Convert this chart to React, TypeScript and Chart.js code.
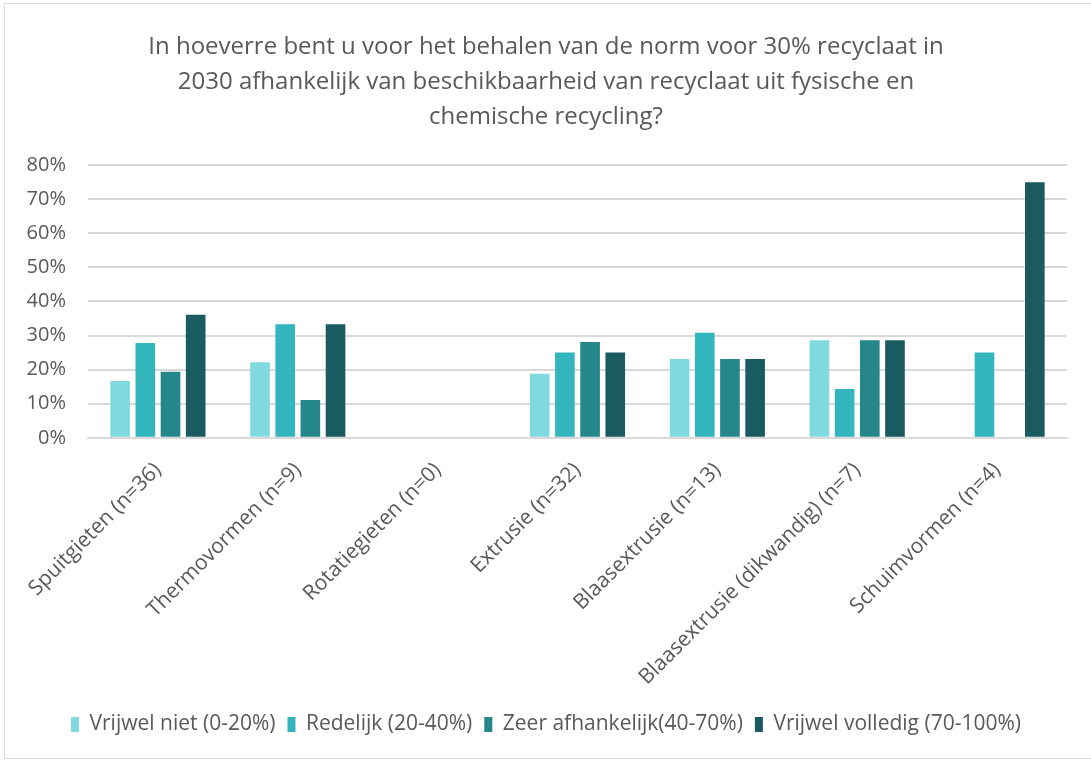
import React, { useEffect, useRef } from "react";
import { Chart, registerables } from "chart.js";

Chart.register(...registerables);

const titleLines = [
  "In hoeverre bent u voor het behalen van de norm voor 30% recyclaat in",
  "2030 afhankelijk van beschikbaarheid van recyclaat uit fysische en",
  "chemische recycling?",
];

const categories = [
  "Spuitgieten (n=36)",
  "Thermovormen (n=9)",
  "Rotatiegieten (n=0)",
  "Extrusie (n=32)",
  "Blaasextrusie (n=13)",
  "Blaasextrusie (dikwandig) (n=7)",
  "Schuimvormen (n=4)",
];

const seriesNames = [
  "Vrijwel niet (0-20%)",
  "Redelijk (20-40%)",
  "Zeer afhankelijk(40-70%)",
  "Vrijwel volledig (70-100%)",
];

const vrijwelNiet = [16.7, 22.2, 0, 18.8, 23.1, 28.6, 0];
const redelijk = [27.8, 33.3, 0, 25.0, 30.8, 14.3, 25.0];
const zeerAfhankelijk = [19.4, 11.1, 0, 28.1, 23.1, 28.6, 0];
const vrijwelVolledig = [36.1, 33.3, 0, 25.0, 23.1, 28.6, 75.0];

const colors = ["#7FD9DE", "#32B5BC", "#25878A", "#195B60"];

export default function App() {
  const ref = useRef<HTMLCanvasElement>(null);
  useEffect(() => {
    if (!ref.current) return;
    const seriesData = [vrijwelNiet, redelijk, zeerAfhankelijk, vrijwelVolledig];
    const chart = new Chart(ref.current, {
      type: "bar",
      data: {
        labels: categories,
        datasets: seriesData.map((d, i) => ({
          label: seriesNames[i],
          data: d,
          backgroundColor: colors[i],
          borderWidth: 0,
          categoryPercentage: 0.72,
          barPercentage: 0.78,
        })),
      },
      options: {
        animation: false,
        responsive: false,
        maintainAspectRatio: false,
        layout: { padding: { left: 20, right: 24, top: 10, bottom: 13 } },
        plugins: {
          title: {
            display: true,
            text: titleLines,
            color: "#595959",
            font: { family: "Open Sans", size: 24, weight: "normal", lineHeight: 1.46 },
            padding: { top: 16, bottom: 30 },
          },
          legend: {
            position: "bottom",
            labels: {
              color: "#595959",
              font: { family: "Open Sans", size: 21 },
              boxWidth: 8,
              boxHeight: 15,
              padding: 12,
            },
          },
          tooltip: { enabled: false },
        },
        scales: {
          x: {
            grid: { display: false },
            border: { color: "#d9d9d9", width: 2 },
            afterFit: (scale: any) => {
              scale.paddingLeft = 0;
              scale.paddingRight = 0;
            },
            ticks: {
              color: "#595959",
              font: { family: "Open Sans", size: 21 },
              minRotation: 45,
              maxRotation: 45,
              padding: 12,
            },
          },
          y: {
            min: 0,
            max: 80,
            grid: { color: "#d9d9d9", lineWidth: 2, drawTicks: false },
            border: { display: false },
            afterFit: (scale: any) => {
              scale.width = 63;
            },
            ticks: {
              stepSize: 10,
              color: "#595959",
              font: { family: "Open Sans", size: 20 },
              padding: 22,
              callback: (v: any) => v + "%",
            },
          },
        },
      },
    });
    return () => chart.destroy();
  }, []);
  return (
    <div
      style={{
        position: "absolute",
        left: 4,
        top: 3,
        width: 1087,
        height: 756,
        border: "1px solid #d9d9d9",
        borderRight: "none",
        background: "#fff",
        boxSizing: "border-box",
      }}
    >
      <canvas ref={ref} width={1086} height={754} style={{ display: "block" }} />
    </div>
  );
}
